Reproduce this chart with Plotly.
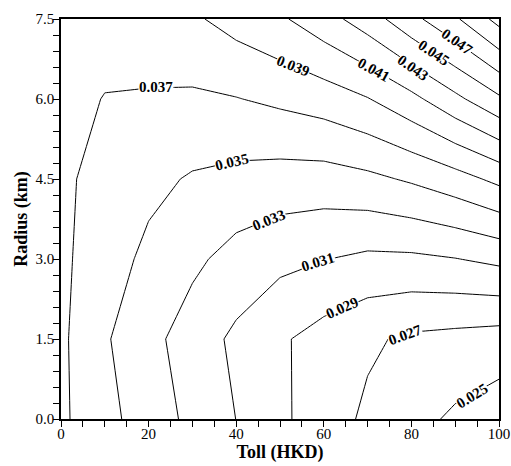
import plotly.graph_objects as go

# Grid of the surface (Toll in HKD, Radius in km)
toll = [0, 10, 20, 30, 40, 50, 60, 70, 80, 90, 100]
radius = [0.0, 1.5, 3.0, 4.5, 6.0, 7.5]

# values, one row per radius
z_r00 = [0.03736, 0.03561, 0.03403, 0.03252, 0.03098, 0.02940, 0.02793, 0.02665, 0.02566, 0.02467, 0.02390]
z_r15 = [0.03737, 0.03522, 0.03360, 0.03206, 0.03059, 0.02928, 0.02820, 0.02730, 0.02666, 0.02640, 0.02611]
z_r30 = [0.03739, 0.03591, 0.03455, 0.03341, 0.03230, 0.03152, 0.03106, 0.03060, 0.03063, 0.03094, 0.03147]
z_r45 = [0.03730, 0.03646, 0.03550, 0.03481, 0.03444, 0.03420, 0.03415, 0.03455, 0.03525, 0.03620, 0.03750]
z_r60 = [0.03748, 0.03695, 0.03676, 0.03670, 0.03693, 0.03740, 0.03795, 0.03890, 0.04044, 0.04250, 0.04465]
z_r75 = [0.03780, 0.03760, 0.03850, 0.03870, 0.03975, 0.04070, 0.04220, 0.04400, 0.04640, 0.04870, 0.05166]

levels_start, levels_end, levels_step = 0.025, 0.051, 0.002

# labelled levels
label_text = ["0.037", "0.035", "0.033", "0.031", "0.029", "0.027", "0.025",
              "0.039", "0.041", "0.043", "0.045", "0.047"]

# where each label sits on its line (layout only)
label_pos = [(21.6, 6.22, 0), (39.0, 4.82, -13), (47.5, 3.73, -22), (58.6, 2.94, -17),
             (64.1, 2.09, -24), (78.5, 1.58, -20), (93.8, 0.44, -31),
             (53.0, 6.61, 22), (71.5, 6.55, 29), (80.4, 6.58, 35), (85.2, 6.87, 34),
             (90.5, 7.07, 35)]

serif = "Liberation Serif"

fig = go.Figure()
fig.add_trace(go.Contour(
    x=toll, y=radius, z=[z_r00, z_r15, z_r30, z_r45, z_r60, z_r75],
    autocontour=False,
    contours=dict(start=levels_start, end=levels_end, size=levels_step,
                  coloring="none", showlabels=False),
    line=dict(color="black", width=1, smoothing=0),
    showscale=False, hoverinfo="skip",
))

annotations = []
for txt, (ax, ay, ang) in zip(label_text, label_pos):
    annotations.append(dict(
        x=ax, y=ay, xref="x", yref="y", text=txt, showarrow=False,
        textangle=ang, bgcolor="white", borderpad=0,
        font=dict(family=serif, size=15, color="black", weight="bold"),
        xanchor="center", yanchor="middle",
    ))

axis_common = dict(
    showline=True, linecolor="black", linewidth=1.5, mirror=True,
    ticks="outside", ticklen=6, tickwidth=1, tickcolor="black",
    showgrid=False, zeroline=False, automargin=False,
    tickfont=dict(family=serif, size=15, color="black"),
)

fig.update_layout(
    width=511, height=466,
    margin=dict(l=61, r=12, t=19, b=47),
    paper_bgcolor="white", plot_bgcolor="white",
    xaxis=dict(range=[0, 100], dtick=20, tick0=0, ticklabelstandoff=-6,
               minor=dict(dtick=5, ticks="outside", ticklen=6, tickcolor="black"),
               title=dict(text="Toll (HKD)", standoff=4,
                          font=dict(family=serif, size=18, color="black", weight="bold")),
               **axis_common),
    yaxis=dict(range=[0, 7.5], dtick=1.5, tick0=0, tickformat=".1f", ticklabelstandoff=-4,
               minor=dict(dtick=0.3, ticks="outside", ticklen=6, tickcolor="black"),
               title=dict(text="Radius (km)", standoff=3,
                          font=dict(family=serif, size=18, color="black", weight="bold")),
               **axis_common),
    annotations=annotations,
    showlegend=False,
)

fig.write_html("out.html", config={"displayModeBar": False},
               post_script="document.body.style.margin='0px';")
